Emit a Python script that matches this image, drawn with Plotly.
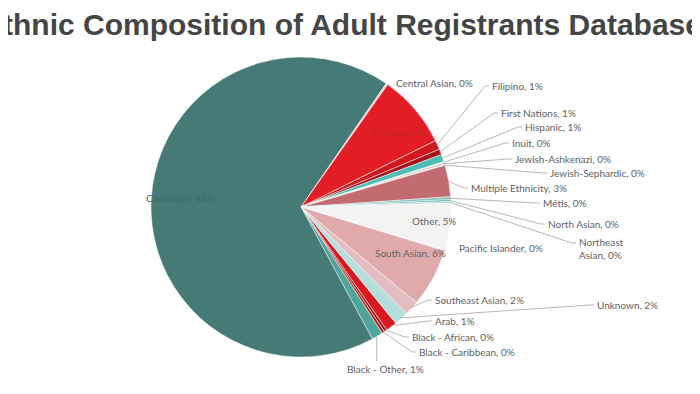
import math
import plotly.graph_objects as go

# ---------------- data ----------------
labels = ["Arab", "Black - African", "Black - Caribbean", "Black - Other", "Caucasian",
          "Central Asian", "Chinese", "Filipino", "First Nations", "Hispanic", "Inuit",
          "Jewish-Ashkenazi", "Jewish-Sephardic", "Multiple Ethnicity", "Métis",
          "North Asian", "Northeast Asian", "Other", "Pacific Islander", "South Asian",
          "Southeast Asian", "Unknown"]
values = [1.2, 0.3, 0.3, 1.2, 67.5,
          0.2, 7.9, 1.0, 0.6, 0.8, 0.1,
          0.2, 0.1, 3.4, 0.3,
          0.2, 0.2, 5.0, 0.1, 6.3,
          1.6, 1.5]
colors = ["#D71920", "#9E1B1E", "#B71C1C", "#4FA59C", "#467A76",
          "#E0D0CF", "#E31D25", "#CF1720", "#A8121A", "#4DBDB5", "#F2F2F2",
          "#E6B8B7", "#CCE8E6", "#C26C71", "#8FBFBA",
          "#5FB3AA", "#A9D6D2", "#F3F3F3", "#F9E1E1", "#E0AAAD",
          "#E3BDBF", "#B5DFDC"]
title_text = "Ethnic Composition of Adult Registrants Database"

# ---------------- layout parameters (window pixels) ----------------
W, H = 700, 394
OFF = 8  # page body margin offsets the figure inside the window
CX, CY, R = 301, 207, 150
total = sum(values)
CAUC_START = 151.6  # clockwise degrees from 12 o'clock where the big slice begins
ROT = CAUC_START - 360 * sum(values[:labels.index("Caucasian")]) / total

# label placement: name -> (x, y, mode)
label_pos = {
    "Central Asian": (394, 83, "noline"),
    "Filipino": (490, 86, "line"),
    "First Nations": (499, 113, "line"),
    "Hispanic": (523, 127, "line"),
    "Inuit": (510, 143, "line"),
    "Jewish-Ashkenazi": (513, 159, "line"),
    "Jewish-Sephardic": (548, 173, "line"),
    "Multiple Ethnicity": (469, 188, "line"),
    "Métis": (541, 203, "line"),
    "North Asian": (546, 224, "line"),
    "Northeast Asian": (577, 248, "line2"),
    "Other": (434, 221, "inside"),
    "Pacific Islander": (457, 248, "noline"),
    "South Asian": (410, 253, "inside"),
    "Southeast Asian": (433, 300, "line"),
    "Unknown": (595, 305, "line"),
    "Arab": (433, 321, "line"),
    "Black - African": (410, 337, "line"),
    "Black - Caribbean": (417, 352, "line"),
    "Black - Other": (385, 369, "below"),
    "Caucasian": (180, 198, "inside"),
    "Chinese": (400, 132, "inside"),
}
inside_colors = {"Caucasian": "#3B6A66", "Chinese": "#C4222A"}
line_breaks = {"Northeast Asian": "Northeast<br>Asian"}

def PX(x):
    return (x - OFF) / W

def PY(y):
    return 1 - (y - OFF) / H

fig = go.Figure()
fig.add_trace(go.Pie(
    labels=labels, values=values, sort=False, direction="clockwise", rotation=ROT,
    marker=dict(colors=colors, line=dict(color="rgba(255,255,255,0.8)", width=0.6)),
    textinfo="none", hoverinfo="label+percent", showlegend=False,
    domain=dict(x=[PX(CX - R), PX(CX + R)], y=[PY(CY + R), PY(CY - R)]),
))

shapes = []
annotations = []
cum = 0.0
for lab, v in zip(labels, values):
    mid = math.radians(ROT + 360 * (cum + v / 2) / total)
    cum += v
    pct = int(v / total * 100 + 0.5)
    name = line_breaks.get(lab, lab)
    text = f"{name}, {pct}%"
    x, y, mode = label_pos[lab]
    ex = CX + (R - 1) * math.sin(mid)
    ey = CY - (R - 1) * math.cos(mid)
    font = dict(family="Lato, Open Sans, sans-serif", size=10, color="#626262")
    if mode == "inside":
        font = dict(family="Lato, Open Sans, sans-serif", size=10,
                    color=inside_colors.get(lab, "#626262"))
        annotations.append(dict(text=text, x=PX(x), y=PY(y), xref="paper", yref="paper",
                                xanchor="center", yanchor="middle", showarrow=False, font=font))
        continue
    if mode == "below":
        annotations.append(dict(text=text, x=PX(x), y=PY(y), xref="paper", yref="paper",
                                xanchor="center", yanchor="middle", showarrow=False, font=font))
        shapes.append(dict(type="path", xref="paper", yref="paper",
                           path=f"M{PX(ex)},{PY(ey)} L{PX(ex)},{PY(y - 8)}",
                           line=dict(color="#A6A6A6", width=0.8)))
        continue
    annotations.append(dict(text=text, x=PX(x), y=PY(y), xref="paper", yref="paper",
                            xanchor="left", yanchor="middle", align="left",
                            showarrow=False, font=font))
    if mode in ("line", "line2"):
        ly = y - 5 if mode == "line2" else y
        shapes.append(dict(type="path", xref="paper", yref="paper",
                           path=f"M{PX(ex)},{PY(ey)} L{PX(x - 5)},{PY(ly)} L{PX(x - 1)},{PY(ly)}",
                           line=dict(color="#A6A6A6", width=0.8)))

annotations.append(dict(text=f"<b>{title_text}</b>", x=PX(342), y=PY(24), xref="paper",
                        yref="paper", xanchor="center", yanchor="middle", showarrow=False,
                        font=dict(family="Liberation Sans, Arial, sans-serif", size=30,
                                  color="#454545")))

fig.update_layout(width=W, height=H, margin=dict(l=0, r=0, t=0, b=0),
                  paper_bgcolor="white", plot_bgcolor="white",
                  shapes=shapes, annotations=annotations)
fig.write_html("out.html")
